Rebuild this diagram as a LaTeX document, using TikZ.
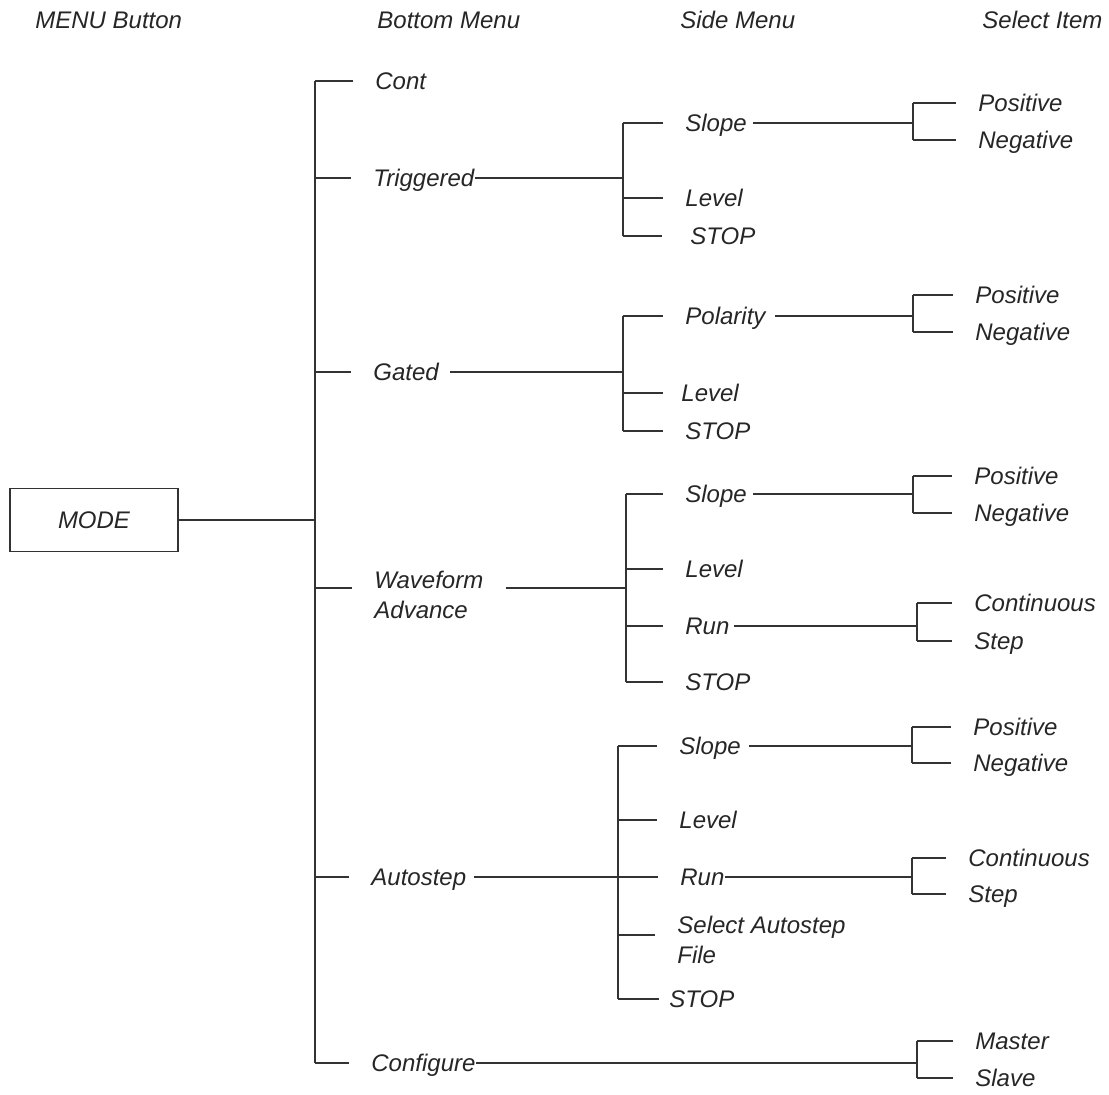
\documentclass[tikz,border=0pt]{standalone}
\usepackage{fontspec}
\setmainfont{Liberation Sans}
\usetikzlibrary{positioning}

\begin{document}
\begin{tikzpicture}[x=0.5pt,y=-0.5pt,
  every node/.style={font=\itshape\fontsize{12}{15}\selectfont,text=black!85},
  wire/.style={draw=black!80,line width=0.6pt},
  tick/.style={wire,shorten >=#1},
  tick/.default=11pt,
  box/.style={draw=black!80,line width=0.6pt,minimum width=84pt,
    minimum height=31.5pt,inner sep=0pt},
  item/.style={anchor=west,inner sep=0pt,text height=8.6pt,text depth=0pt},
  twoline/.style={anchor=north west,inner sep=0pt,align=left}
]
  \useasboundingbox (0,0) rectangle (1109,1095);

  % column headings
  \node[item] (hbutton) at (35,20) {MENU Button};
  \node[item] (hbottom) at (377,20) {Bottom Menu};
  \node[item] (hside) at (680,20) {Side Menu};
  \node[item] (hselect) at (982,20) {Select Item};

  % menu button and bottom menu
  \node[box] (mode) at (94,520) {MODE};
  \coordinate (trunk) at (315,0);
  \node[item] (cont) at (375,81) {Cont};
  \node[item] (trig) at (373,178) {Triggered};
  \node[item] (gated) at (373,372) {Gated};
  \node[twoline] (wave) at (374,571) {Waveform\\Advance};
  \node[item] (auto) at (371,877) {Autostep};
  \node[item] (conf) at (371,1063) {Configure};
  \coordinate (wavein) at ([yshift=-8.5pt]wave.north west);
  \coordinate (waveout) at ([yshift=-8.5pt]wave.north east);

  \draw[wire] (mode.east) -- (mode.east -| trunk);
  \draw[wire] (cont -| trunk) -- (conf -| trunk);
  \draw[tick] (cont -| trunk) -- (cont.west);
  \draw[tick] (trig -| trunk) -- (trig.west);
  \draw[tick] (gated -| trunk) -- (gated.west);
  \draw[tick] (wavein -| trunk) -- (wavein);
  \draw[tick] (auto -| trunk) -- (auto.west);
  \draw[tick] (conf -| trunk) -- (conf.west);

  % Triggered
  \coordinate (tj) at (623,0);
  \coordinate (tsj) at (913,0);
  \node[item] (tslope) at (685,123) {Slope};
  \node[item] (tlevel) at (685,198) {Level};
  \node[item] (tstop) at (690,236) {STOP};
  \node[item] (tpos) at (978,103) {Positive};
  \node[item] (tneg) at (978,140) {Negative};
  \draw[wire] (trig.east) -- (trig -| tj);
  \draw[wire] (tslope -| tj) -- (tstop -| tj);
  \draw[tick] (tslope -| tj) -- (tslope.west);
  \draw[tick] (tlevel -| tj) -- (tlevel.west);
  \draw[tick=14pt] (tstop -| tj) -- (tstop.west);
  \draw[wire,shorten <=3pt] (tslope.east) -- (tslope -| tsj);
  \draw[wire] (tpos -| tsj) -- (tneg -| tsj);
  \draw[tick] (tpos -| tsj) -- (tpos.west);
  \draw[tick] (tneg -| tsj) -- (tneg.west);

  % Gated
  \coordinate (gj) at (623,0);
  \coordinate (gsj) at (913,0);
  \node[item] (gpol) at (685,316) {Polarity};
  \node[item] (glevel) at (681,393) {Level};
  \node[item] (gstop) at (685,431) {STOP};
  \node[item] (gpos) at (975,295) {Positive};
  \node[item] (gneg) at (975,332) {Negative};
  \draw[wire,shorten <=5.5pt] (gated.east) -- (gated -| gj);
  \draw[wire] (gpol -| gj) -- (gstop -| gj);
  \draw[tick] (gpol -| gj) -- (gpol.west);
  \draw[tick=9pt] (glevel -| gj) -- (glevel.west);
  \draw[tick] (gstop -| gj) -- (gstop.west);
  \draw[wire,shorten <=4.5pt] (gpol.east) -- (gpol -| gsj);
  \draw[wire] (gpos -| gsj) -- (gneg -| gsj);
  \draw[tick] (gpos -| gsj) -- (gpos.west);
  \draw[tick] (gneg -| gsj) -- (gneg.west);

  % Waveform Advance
  \coordinate (wj) at (626,0);
  \coordinate (wsj) at (913,0);
  \coordinate (wrj) at (917,0);
  \node[item] (wslope) at (685,494) {Slope};
  \node[item] (wlevel) at (685,569) {Level};
  \node[item] (wrun) at (685,626) {Run};
  \node[item] (wstop) at (685,682) {STOP};
  \node[item] (wpos) at (974,476) {Positive};
  \node[item] (wneg) at (974,513) {Negative};
  \node[item] (wcont) at (974,603) {Continuous};
  \node[item] (wstep) at (974,641) {Step};
  \draw[wire,shorten <=11pt] (waveout) -- (waveout -| wj);
  \draw[wire] (wslope -| wj) -- (wstop -| wj);
  \draw[tick] (wslope -| wj) -- (wslope.west);
  \draw[tick] (wlevel -| wj) -- (wlevel.west);
  \draw[tick] (wrun -| wj) -- (wrun.west);
  \draw[tick] (wstop -| wj) -- (wstop.west);
  \draw[wire,shorten <=3pt] (wslope.east) -- (wslope -| wsj);
  \draw[wire] (wpos -| wsj) -- (wneg -| wsj);
  \draw[tick] (wpos -| wsj) -- (wpos.west);
  \draw[tick] (wneg -| wsj) -- (wneg.west);
  \draw[wire,shorten <=2pt] (wrun.east) -- (wrun -| wrj);
  \draw[wire] (wcont -| wrj) -- (wstep -| wrj);
  \draw[tick] (wcont -| wrj) -- (wcont.west);
  \draw[tick] (wstep -| wrj) -- (wstep.west);

  % Autostep
  \coordinate (aj) at (618,0);
  \coordinate (asj) at (912,0);
  \node[item] (aslope) at (679,746) {Slope};
  \node[item] (alevel) at (679,820) {Level};
  \node[item] (arun) at (680,877) {Run};
  \node[twoline] (asel) at (677,916) {Select Autostep\\File};
  \node[item] (astop) at (669,999) {STOP};
  \node[item] (apos) at (973,727) {Positive};
  \node[item] (aneg) at (973,763) {Negative};
  \node[item] (acont) at (968,858) {Continuous};
  \node[item] (astep) at (968,894) {Step};
  \coordinate (aselin) at ([yshift=-9.5pt]asel.north west);
  \draw[wire,shorten <=3.5pt] (auto.east) -- (auto -| aj);
  \draw[wire] (aslope -| aj) -- (astop -| aj);
  \draw[tick] (aslope -| aj) -- (aslope.west);
  \draw[tick] (alevel -| aj) -- (alevel.west);
  \draw[tick] (arun -| aj) -- (arun.west);
  \draw[tick] (aselin -| aj) -- (aselin);
  \draw[tick=5pt] (astop -| aj) -- (astop.west);
  \draw[wire,shorten <=4pt] (aslope.east) -- (aslope -| asj);
  \draw[wire] (apos -| asj) -- (aneg -| asj);
  \draw[tick] (apos -| asj) -- (apos.west);
  \draw[tick] (aneg -| asj) -- (aneg.west);
  \draw[wire] (arun.east) -- (arun -| asj);
  \draw[wire] (acont -| asj) -- (astep -| asj);
  \draw[tick] (acont -| asj) -- (acont.west);
  \draw[tick] (astep -| asj) -- (astep.west);

  % Configure
  \coordinate (cj) at (917,0);
  \node[item] (master) at (975,1041) {Master};
  \node[item] (slave) at (975,1078) {Slave};
  \draw[wire] (conf.east) -- (conf -| cj);
  \draw[wire] (master -| cj) -- (slave -| cj);
  \draw[tick] (master -| cj) -- (master.west);
  \draw[tick] (slave -| cj) -- (slave.west);
\end{tikzpicture}
\end{document}
